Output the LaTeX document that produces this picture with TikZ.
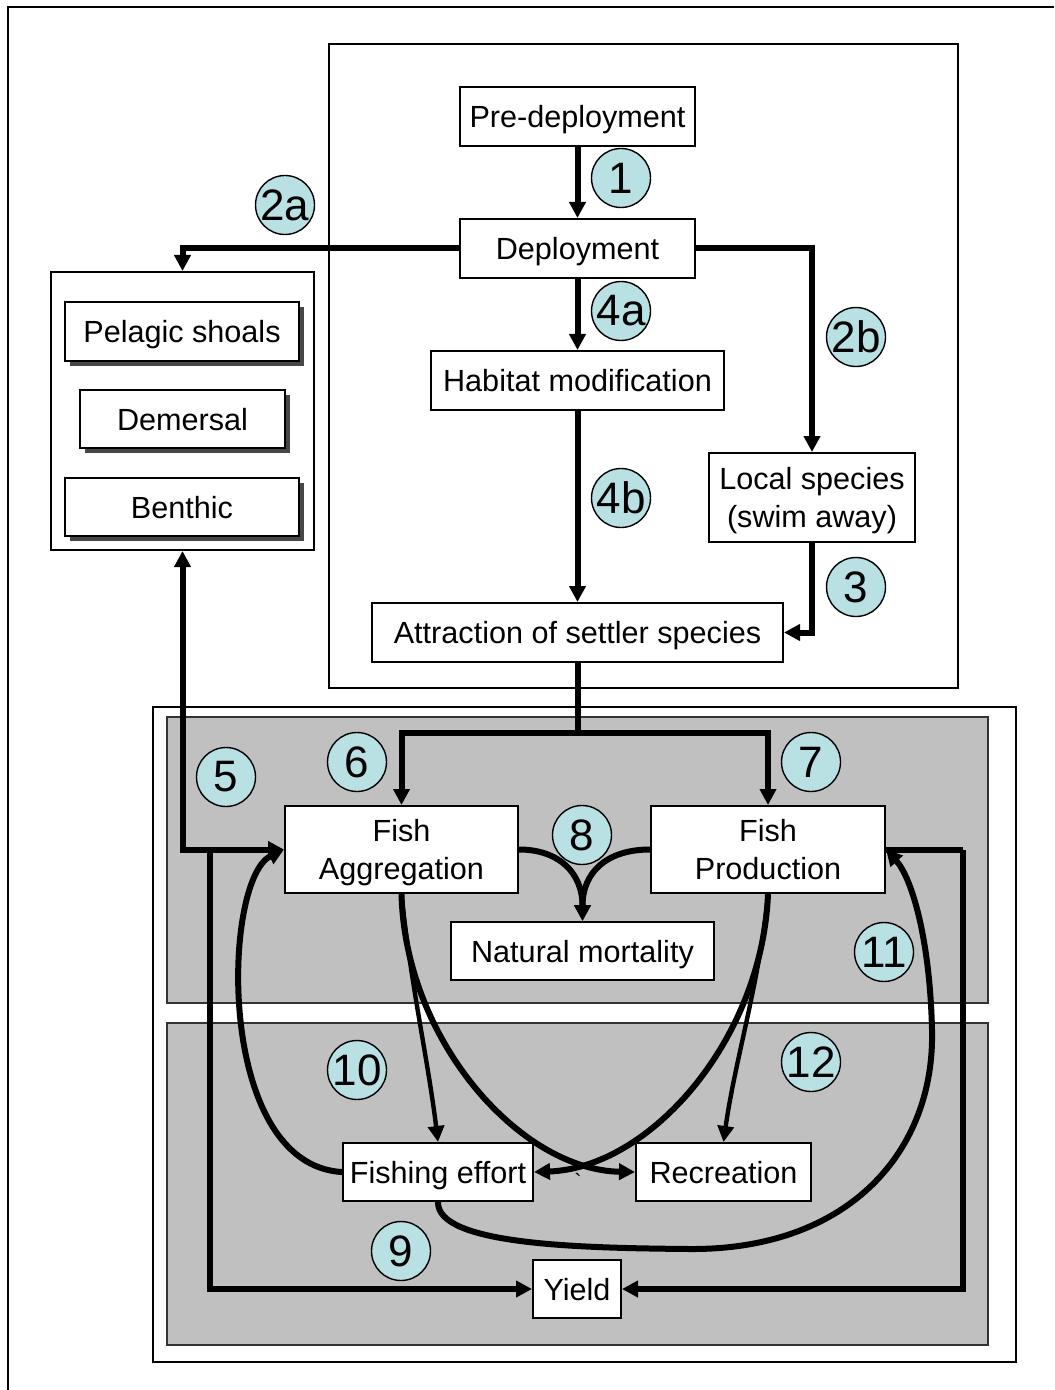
\documentclass[tikz,border=0pt]{standalone}
\usepackage{fontspec}
\setmainfont{Liberation Sans}
\usetikzlibrary{arrows.meta,shadows}
\definecolor{tagfill}{RGB}{185,224,227}
\definecolor{panelgray}{RGB}{192,192,192}
\begin{document}
\begin{tikzpicture}[x=0.5pt,y=-0.5pt,
  box/.style={draw, fill=white, line width=1pt, inner sep=0pt, align=center, text depth=0pt,
    font=\fontsize{15.3}{18.8}\selectfont},
  shadowbox/.style={box, drop shadow={shadow xshift=2.6pt, shadow yshift=-2.6pt, opacity=1, fill=black!72}},
  frame/.style={draw, line width=1pt},
  panel/.style={draw=black!80, line width=0.8pt, fill=panelgray},
  tag/.style={circle, draw, fill=tagfill, line width=0.7pt, minimum size=29.5pt,
    inner sep=0pt, font=\fontsize{22}{22}\selectfont},
  tip/.tip={Triangle[length=8pt,width=8pt]},
  flow/.style={line width=3pt, -tip},
  thinflow/.style={line width=2.2pt, -tip},
  link/.style={line width=3pt}
]
\useasboundingbox (0,0) rectangle (1054,1390);

% page border
\draw[line width=1.2pt] (8,1390) -- (8,7) -- (1054,7);

% enclosing frames and shaded panels
\node[frame, minimum width=314.5pt, minimum height=322pt] (topframe) at (643.5,366) {};
\node[frame, fill=white, minimum width=431.5pt, minimum height=327.5pt] (botframe) at (584.5,1034.5) {};
\node[panel, minimum width=410.5pt, minimum height=143pt] (upperpanel) at (577.5,860) {};
\node[panel, minimum width=410.5pt, minimum height=161pt] (lowerpanel) at (577.5,1184) {};

% deployment chain
\node[box, minimum width=117.5pt, minimum height=29.5pt] (pre) at (577.5,116.5) {Pre-deployment};
\node[box, minimum width=117.5pt, minimum height=29.5pt] (dep) at (577.5,248.5) {Deployment};
\node[box, minimum width=146.5pt, minimum height=29.5pt] (hab) at (577.5,380.5) {Habitat modification};
\node[box, minimum width=103pt, minimum height=44.5pt] (loc) at (812,497.5) {Local species\\(swim away)};
\node[box, minimum width=205.5pt, minimum height=29.5pt] (att) at (577.5,632.5) {Attraction of settler species};

% fish groups
\node[box, minimum width=131.5pt, minimum height=139pt] (grp) at (182.5,411) {};
\node[shadowbox, minimum width=117pt, minimum height=29.5pt] (pel) at (182,331.5) {Pelagic shoals};
\node[shadowbox, minimum width=102.5pt, minimum height=29pt] (dem) at (182.5,419) {Demersal};
\node[shadowbox, minimum width=117pt, minimum height=29pt] (ben) at (182,507) {Benthic};

% connectors of the deployment chain
\draw[flow] (pre) -- (dep);
\draw[flow] (dep) -- (hab);
\draw[flow] (hab) -- (att);
\draw[flow] (dep.west) -| (grp.north);
\draw[flow] (dep.east) -| (loc.north);
\draw[flow] (loc.south) |- (att.east);

% split towards aggregation and production
\coordinate (split) at (577.5,733);
\coordinate (j9) at (210,849.5);
\coordinate (r9) at (963,849.5);
\coordinate (mid11) at (690,1249);
\coordinate (turn11) at (932,1030);

\node[box, minimum width=116.5pt, minimum height=43.5pt] (agg) at (401.5,849.5) {Fish\\Aggregation};
\node[box, minimum width=117pt, minimum height=43.5pt] (prod) at (768,849.5) {Fish\\Production};
\node[box, minimum width=131.5pt, minimum height=29pt] (nat) at (582.5,951) {Natural mortality};
\node[box, minimum width=95pt, minimum height=29pt] (fe) at (438,1172) {Fishing effort};
\node[box, minimum width=87.5pt, minimum height=29pt] (rec) at (723.5,1172) {Recreation};
\node[box, minimum width=44pt, minimum height=29pt] (yield) at (577,1289) {Yield};

\draw[link] (att.south) -- (split);
\draw[flow] (split) -| (agg.north);
\draw[flow] (split) -| (prod.north);

% exchange with the fish groups and yield
\draw[line width=3pt, tip-tip] (grp.south) |- (agg.west);
\draw[flow] (j9) |- (yield.west);
\draw[link] (prod.east) -- (r9);
\draw[flow] (r9) |- (yield.east);

% natural mortality
\draw[flow] (agg.east) .. controls (558,849.5) and (582.5,872) .. (nat.north);
\draw[flow] (prod.west) .. controls (607,849.5) and (582.5,872) .. (nat.north);

% fishing effort and recreation
\draw[thinflow] (agg.south) .. controls (410,980) and (428,1060) .. (fe.north);
\draw[thinflow] (prod.south) .. controls (760,980) and (735,1060) .. (rec.north);
\draw[flow] (agg.south) .. controls (405,1040) and (520,1170) .. (rec.west);
\draw[flow] (prod.south) .. controls (762,1040) and (650,1168) .. (fe.east);
\draw[flow] (fe.west) .. controls (215,1165) and (222,880) .. (agg.west);
\draw[flow] (fe.south) .. controls (437,1245) and (580,1248) .. (mid11)
  .. controls (850,1250) and (935,1150) .. (turn11)
  .. controls (930,940) and (912,878) .. (prod.east);

\node[inner sep=0pt, font=\fontsize{11}{11}\selectfont] (tick) at (578,1181) {\textasciigrave};

% numbered tags
\node[tag] (t1) at (621,178) {1};
\node[tag] (t2a) at (285,205) {2a};
\node[tag] (t2b) at (856,337) {2b};
\node[tag] (t4a) at (621,311) {4a};
\node[tag] (t4b) at (621,498) {4b};
\node[tag] (t3) at (856,587) {3};
\node[tag] (t5) at (226,777) {5};
\node[tag] (t6) at (357,762) {6};
\node[tag] (t7) at (811,762) {7};
\node[tag] (t8) at (582,835) {8};
\node[tag] (t11) at (884,952) {11};
\node[tag] (t10) at (357,1070) {10};
\node[tag] (t12) at (811,1062) {12};
\node[tag] (t9) at (401,1251) {9};
\end{tikzpicture}
\end{document}
